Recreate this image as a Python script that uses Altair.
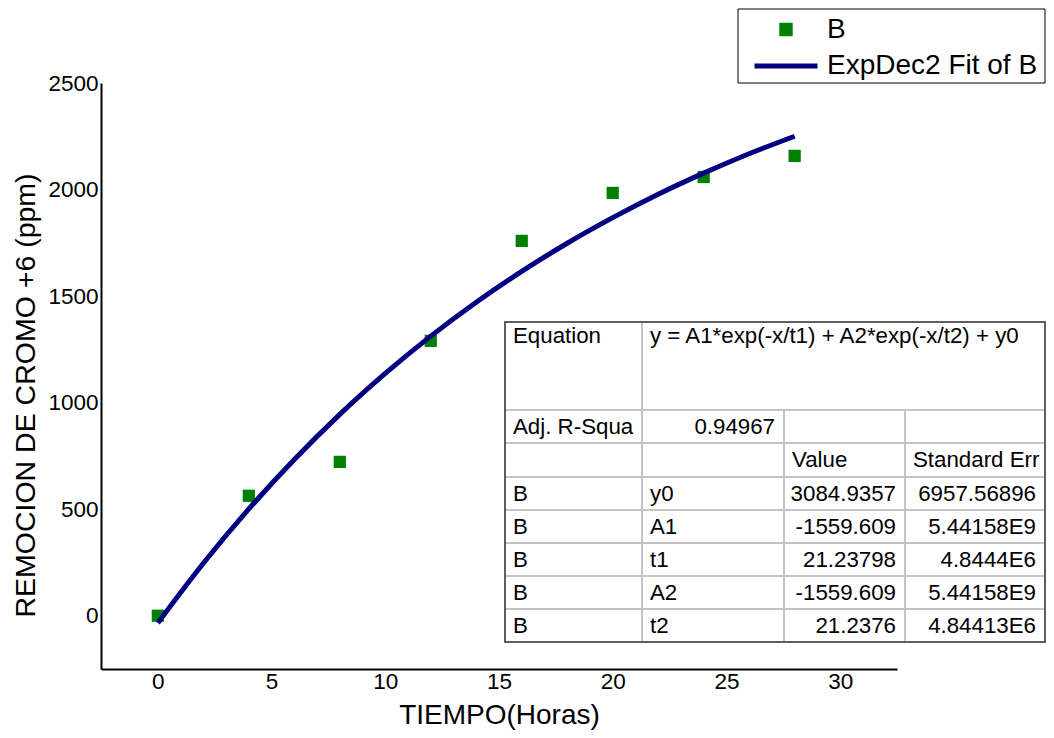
import altair as alt
import pandas as pd

# ---------------- data ----------------
hours = [0, 4, 8, 12, 16, 20, 24, 28]
removal = [0, 563, 722, 1290, 1759, 1984, 2059, 2158]

fit_hours = [0, 2, 4, 6, 8, 10, 12, 14, 16, 18, 20, 22, 24, 26, 28]
fit_removal = [-34, 246, 501, 733, 945, 1137, 1312, 1471, 1616, 1748, 1868, 1978, 2077, 2168, 2250]

series_names = ["B", "ExpDec2 Fit of B"]
series_colors = ["#008000", "#000080"]

x_ticks = [0, 5, 10, 15, 20, 25, 30]
y_ticks = [0, 500, 1000, 1500, 2000, 2500]

x_title = "TIEMPO(Horas)"
y_title = "REMOCION DE CROMO +6 (ppm)"

table_col1 = ["Equation", "Adj. R-Squa", "", "B", "B", "B", "B", "B"]
table_col2 = ["y = A1*exp(-x/t1) + A2*exp(-x/t2) + y0", "0.94967", "", "y0", "A1", "t1", "A2", "t2"]
table_col3 = ["", "", "Value", "3084.9357", "-1559.609", "21.23798", "-1559.609", "21.2376"]
table_col4 = ["", "", "Standard Err", "6957.56896", "5.44158E9", "4.8444E6", "5.44158E9", "4.84413E6"]

# ---------------- layout constants ----------------
FONT = "Liberation Sans"
W, H = 796, 586
TICK_FONT = 22.5
# table (pixel offsets inside the table box)
col_edges = [0, 137, 279, 400, 540]
row_edges = [0, 88, 121, 155, 188, 221, 254, 287, 320]
TABLE_X_RANGE = [404, 944]
TABLE_Y_RANGE = [239, 559]
TABLE_FONT = 22.3
# legend box (pixel offsets inside the legend box)
LEG_W, LEG_H = 307, 74
LEG_X_RANGE = [637, 944]
LEG_Y_RANGE = [-74, 0]
leg_rows = [20.5, 57]
LEG_SYM_X = 48
LEG_LINE_HALF = 31.5
LEG_LABEL_X = 89

# ---------------- main plot ----------------
pts = pd.DataFrame({"x": hours, "y": removal, "series": series_names[0]})
fit = pd.DataFrame({"x": fit_hours, "y": fit_removal, "series": series_names[1]})

xscale = alt.Scale(domain=[-2.5, 32.5], nice=False, zero=False)
yscale = alt.Scale(domain=[-250, 2500], nice=False, zero=False)

xaxis = alt.Axis(values=x_ticks, format="d", title=x_title, labelFontSize=TICK_FONT, labelFont=FONT,
                 labelColor="black", tickSize=0, labelPadding=1, grid=False,
                 domainColor="black", domainWidth=2, titleFont=FONT, titleFontSize=28,
                 titleFontWeight="normal", titleColor="black", titleX=398, titleY=54,
                 titleBaseline="alphabetic", titleAlign="center")
yaxis = alt.Axis(values=y_ticks, format="d", title=y_title, labelFontSize=TICK_FONT, labelFont=FONT,
                 labelColor="black", tickSize=0, labelPadding=3, grid=False,
                 domainColor="black", domainWidth=2, titleFont=FONT, titleFontSize=28.5,
                 titleFontWeight="normal", titleColor="black", titleX=-67, titleY=312,
                 titleBaseline="alphabetic", titleAlign="center", titleAngle=270)

cscale = alt.Scale(domain=series_names, range=series_colors)

points = alt.Chart(pts).mark_square(size=150, opacity=1).encode(
    x=alt.X("x:Q", scale=xscale, axis=xaxis),
    y=alt.Y("y:Q", scale=yscale, axis=yaxis),
    color=alt.Color("series:N", scale=cscale, legend=None),
)
line = alt.Chart(fit).mark_line(strokeWidth=5, interpolate="monotone").encode(
    x=alt.X("x:Q", scale=xscale, axis=xaxis),
    y=alt.Y("y:Q", scale=yscale, axis=yaxis),
    color=alt.Color("series:N", scale=cscale, legend=None),
)
main = alt.layer(points, line)

# ---------------- legend box ----------------
lx = alt.Scale(domain=[0, LEG_W], range=LEG_X_RANGE, nice=False, zero=False)
ly = alt.Scale(domain=[0, LEG_H], range=LEG_Y_RANGE, nice=False, zero=False)
leg_df = pd.DataFrame({
    "label": series_names,
    "color": series_colors,
    "y": leg_rows,
    "sx": [LEG_SYM_X] * 2,
    "sx0": [LEG_SYM_X - LEG_LINE_HALF] * 2,
    "sx1": [LEG_SYM_X + LEG_LINE_HALF] * 2,
    "tx": [LEG_LABEL_X] * 2,
})
leg_box_df = pd.DataFrame([{"x0": 0, "x1": LEG_W, "y0": 0, "y1": LEG_H}])

leg_box = alt.Chart(leg_box_df).mark_rect(fill="white", stroke="black", strokeWidth=1).encode(
    x=alt.X("x0:Q", scale=lx, axis=None), x2="x1:Q",
    y=alt.Y("y0:Q", scale=ly, axis=None), y2="y1:Q",
)
leg_sym = alt.Chart(leg_df).transform_filter(alt.datum.label == series_names[0]).mark_square(
    size=180, opacity=1, color=series_colors[0]
).encode(
    x=alt.X("sx:Q", scale=lx, axis=None),
    y=alt.Y("y:Q", scale=ly, axis=None),
)
leg_line = alt.Chart(leg_df).transform_filter(alt.datum.label == series_names[1]).mark_rule(
    strokeWidth=5, color=series_colors[1]
).encode(
    x=alt.X("sx0:Q", scale=lx, axis=None), x2="sx1:Q",
    y=alt.Y("y:Q", scale=ly, axis=None),
)
leg_text = alt.Chart(leg_df).mark_text(
    align="left", baseline="middle", fontSize=28, font=FONT, color="black"
).encode(
    x=alt.X("tx:Q", scale=lx, axis=None),
    y=alt.Y("y:Q", scale=ly, axis=None),
    text="label:N",
)
legend_layer = alt.layer(leg_box, leg_sym, leg_line, leg_text)

# ---------------- parameter table ----------------
cols = [table_col1, table_col2, table_col3, table_col4]
cells = []
texts = []
for r in range(len(table_col1)):
    y0, y1 = row_edges[r], row_edges[r + 1]
    yc = 14 if r == 0 else (y0 + y1) / 2
    if r == 0:
        cells.append({"x0": col_edges[0], "x1": col_edges[1], "y0": y0, "y1": y1})
        cells.append({"x0": col_edges[1], "x1": col_edges[4], "y0": y0, "y1": y1})
    else:
        for c in range(4):
            cells.append({"x0": col_edges[c], "x1": col_edges[c + 1], "y0": y0, "y1": y1})
    for c in range(4):
        t = cols[c][r]
        if not t:
            continue
        numeric = t[0].isdigit() or t[0] == "-"
        if numeric:
            texts.append({"xa": col_edges[c + 1], "y": yc, "t": t, "al": "right"})
        else:
            texts.append({"xa": col_edges[c], "y": yc, "t": t, "al": "left"})

cells_df = pd.DataFrame(cells)
texts_df = pd.DataFrame(texts)
outer_df = pd.DataFrame([{"x0": col_edges[0], "x1": col_edges[-1], "y0": row_edges[0], "y1": row_edges[-1]}])

tx = alt.Scale(domain=[col_edges[0], col_edges[-1]], range=TABLE_X_RANGE, nice=False, zero=False)
ty = alt.Scale(domain=[row_edges[0], row_edges[-1]], range=TABLE_Y_RANGE, nice=False, zero=False)

cell_layer = alt.Chart(cells_df).mark_rect(fill="white", stroke="#c4c4c4", strokeWidth=2).encode(
    x=alt.X("x0:Q", scale=tx, axis=None), x2="x1:Q",
    y=alt.Y("y0:Q", scale=ty, axis=None), y2="y1:Q",
)
outer_layer = alt.Chart(outer_df).mark_rect(fillOpacity=0, stroke="#3c3c3c", strokeWidth=1.5).encode(
    x=alt.X("x0:Q", scale=tx, axis=None), x2="x1:Q",
    y=alt.Y("y0:Q", scale=ty, axis=None), y2="y1:Q",
)
left_text = alt.Chart(texts_df).transform_filter(alt.datum.al == "left").mark_text(
    align="left", baseline="middle", dx=8, fontSize=TABLE_FONT, font=FONT, color="black"
).encode(
    x=alt.X("xa:Q", scale=tx, axis=None),
    y=alt.Y("y:Q", scale=ty, axis=None),
    text="t:N",
)
right_text = alt.Chart(texts_df).transform_filter(alt.datum.al == "right").mark_text(
    align="right", baseline="middle", dx=-9, fontSize=TABLE_FONT, font=FONT, color="black"
).encode(
    x=alt.X("xa:Q", scale=tx, axis=None),
    y=alt.Y("y:Q", scale=ty, axis=None),
    text="t:N",
)
table = alt.layer(cell_layer, outer_layer, left_text, right_text)

chart = alt.layer(main, table, legend_layer).resolve_scale(x="independent", y="independent").properties(
    width=W, height=H,
    autosize=alt.AutoSizeParams(type="none"),
    padding={"left": 93, "top": 75, "right": 149, "bottom": 61},
    background="white",
).configure(font=FONT).configure_view(stroke=None)

chart.save("out.html", embed_options={"renderer": "svg", "actions": False})
